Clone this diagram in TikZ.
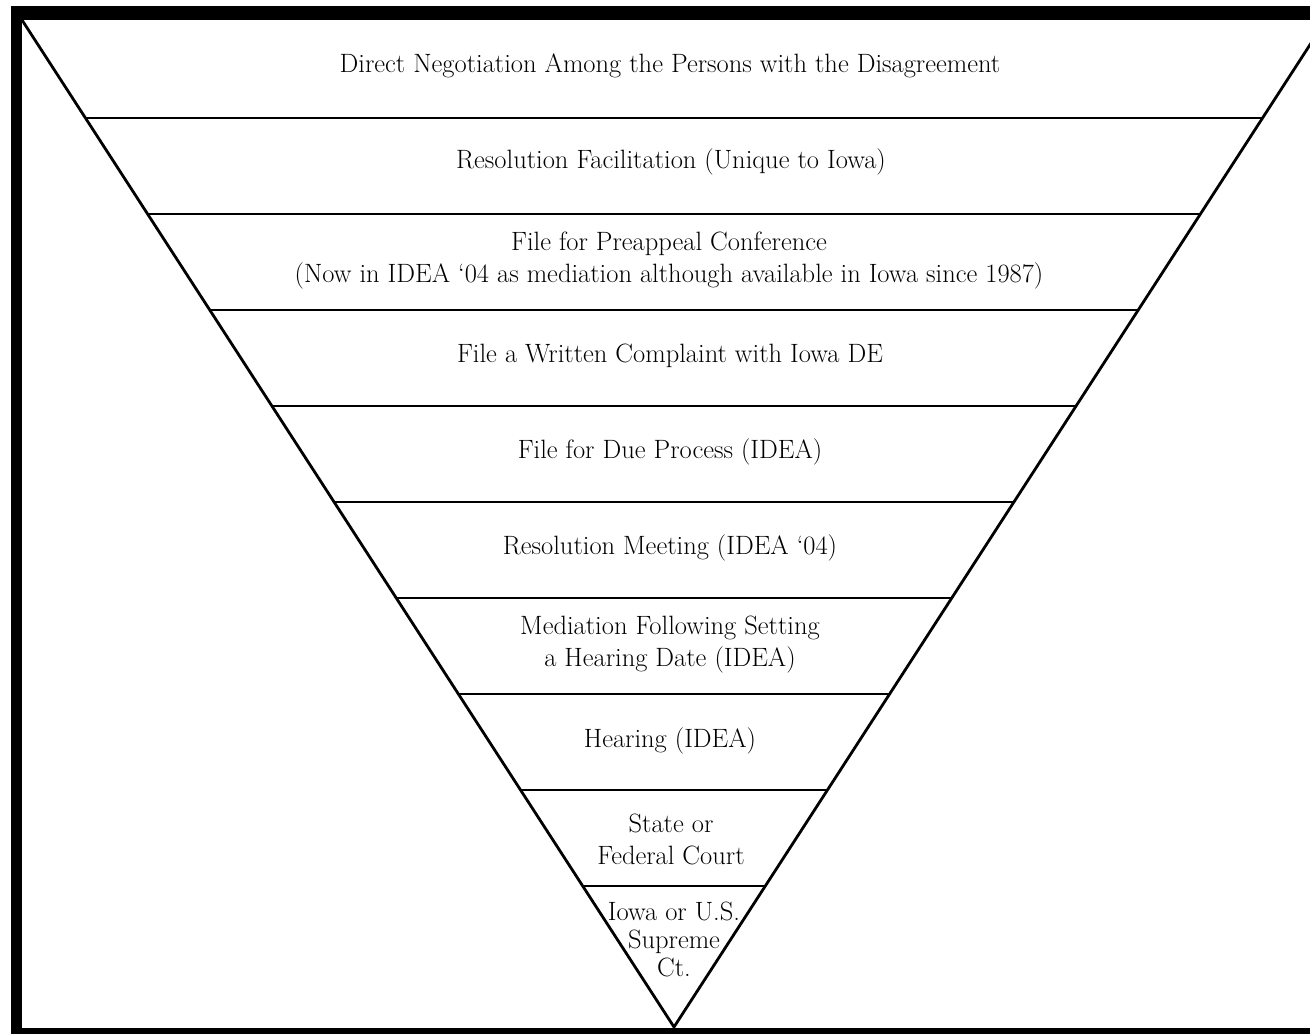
\documentclass[tikz,border=0pt]{standalone}
\usepackage{fontspec}
\usepackage{tikz}
\usetikzlibrary{calc}

\begin{document}
\begin{tikzpicture}[x=1pt,y=-1pt,
	edge/.style={line width=2.8pt},
	band/.style={align=center,font=\fontsize{26.5}{32}\selectfont,inner sep=0pt}]
	\useasboundingbox (0,0) rectangle (1310,1034);
	\clip (0,0) rectangle (1310,1034);

	% frame
	\fill (11,6) rectangle (1310,20);
	\fill (11,6) rectangle (22,1034);
	\fill (11,1028) rectangle (1310,1034);

	\coordinate (TL) at (22,20);
	\coordinate (TR) at (1326,20);
	\coordinate (AP) at (674,1027);

	\draw[edge] (TL) -- (AP) -- (TR);

	% levels
	\foreach \i in {1,...,9}{
		\pgfmathsetmacro{\t}{(98+96*(\i-1))/1007}
		\coordinate (L\i) at ($(TL)!\t!(AP)$);
		\coordinate (R\i) at ($(TR)!\t!(AP)$);
		\draw[edge] (L\i) -- (R\i);
	}

	\node[band] (neg) at (670,66) {Direct Negotiation Among the Persons with the Disagreement};
	\node[band] (fac) at (671,162) {Resolution Facilitation (Unique to Iowa)};
	\node[band] (pre) at (669,261) {File for Preappeal Conference\\(Now in IDEA ‘04 as mediation although available in Iowa since 1987)};
	\node[band] (cmp) at (670,356) {File a Written Complaint with Iowa DE};
	\node[band] (due) at (670,452) {File for Due Process (IDEA)};
	\node[band] (res) at (670,548) {Resolution Meeting (IDEA ‘04)};
	\node[band] (med) at (670,645) {Mediation Following Setting\\a Hearing Date (IDEA)};
	\node[band] (hea) at (670,741) {Hearing (IDEA)};
	\node[band] (crt) at (671,839) {State or\\Federal Court};
	\node[band,font=\fontsize{26.5}{28}\selectfont] (sup) at (674,939) {Iowa or U.S.\\Supreme\\Ct.};
\end{tikzpicture}
\end{document}
